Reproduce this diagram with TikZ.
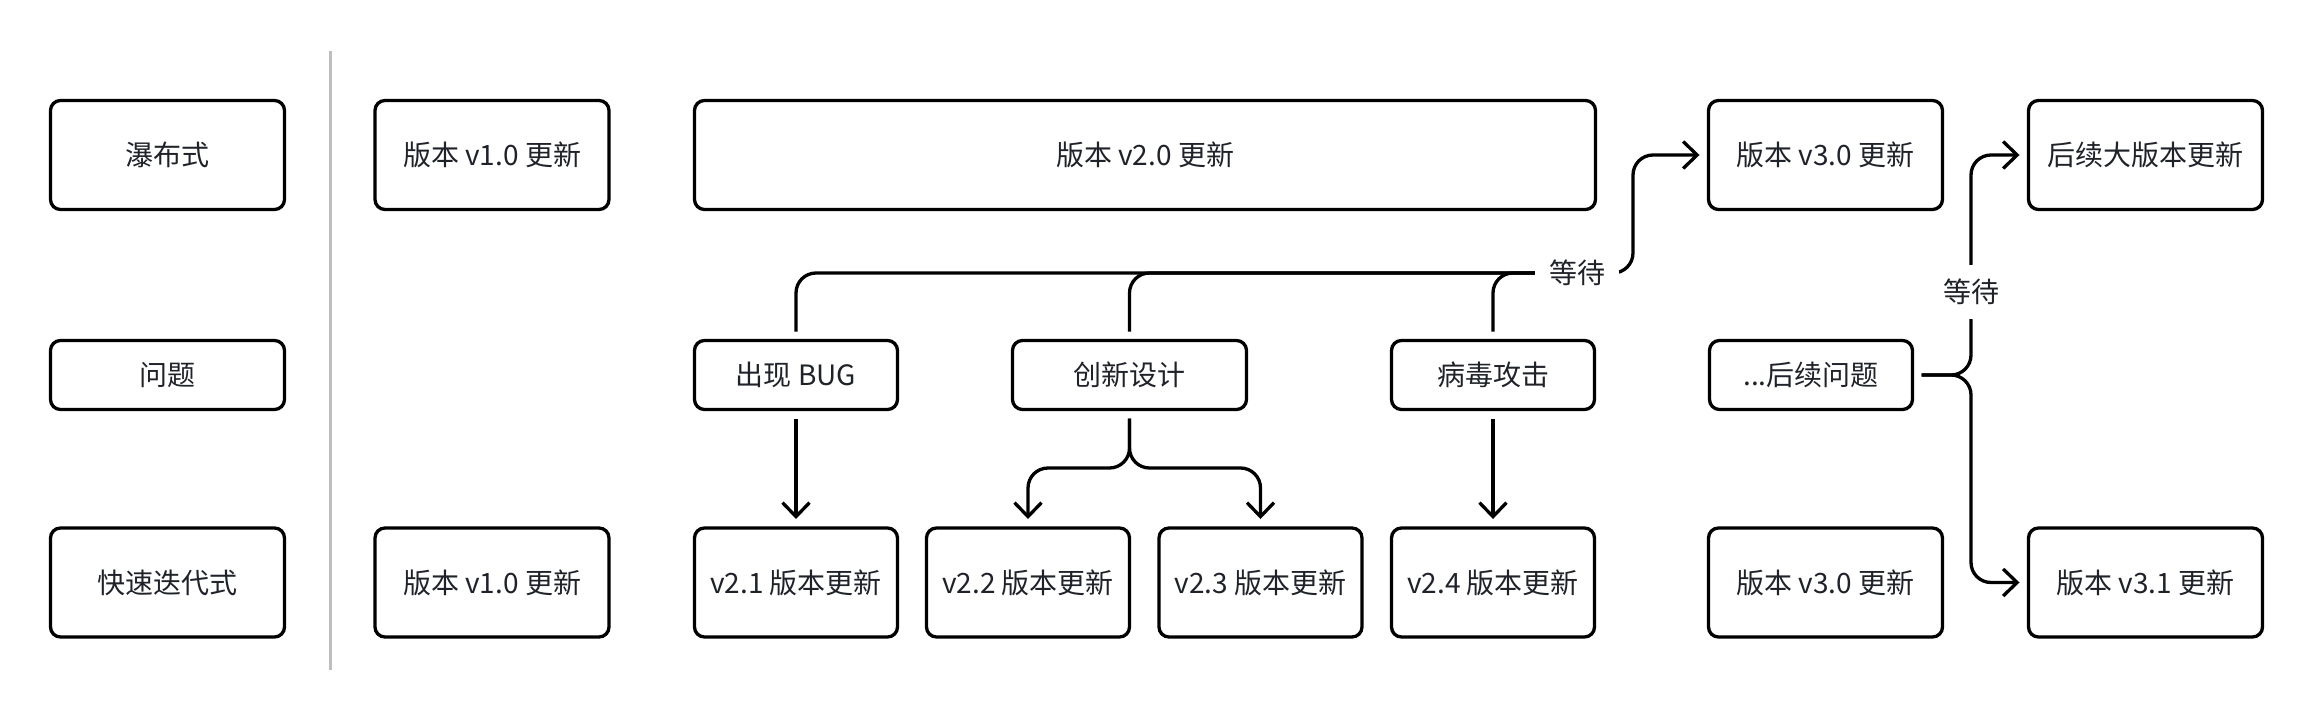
\documentclass[tikz,border=0pt]{standalone}
\usepackage{fontspec}
\setmainfont{Noto Sans CJK SC}
\usetikzlibrary{arrows.meta,positioning}
\definecolor{31_35_41}{RGB}{31, 35, 41}
\definecolor{187_191_196}{RGB}{187, 191, 196}

\begin{document}
\begin{tikzpicture}[
        x=0.5pt,
        y=-0.5pt,
        every node/.style={text=31_35_41, font=\fontsize{14pt}{17pt}\selectfont},
        box/.style={
            draw=black,
            line width=1.65pt,
            rounded corners=5pt,
            minimum width=117pt,
            minimum height=54.5pt,
            inner sep=0pt,
            outer sep=4.5pt
        },
        narrowbox/.style={box, minimum width=101.5pt},
        lowbox/.style={minimum height=34.5pt},
        conn/.style={draw=black, line width=1.65pt, rounded corners=10pt},
        connarrow/.style={conn, -{Straight Barb[length=7pt,width=13.5pt]}},
        waitlabel/.style={fill=white, inner sep=7pt}
    ]
    \useasboundingbox (0,0) rectangle (2314,722);

    % divider
    \draw[187_191_196, line width=1.5pt] (330,51) -- (330,670);

    % left column
    \node[box] (waterfall) at (167.5,155) {瀑布式};
    \node[box, lowbox] (problem) at (167.5,375) {问题};
    \node[box] (rapid) at (167.5,582.5) {快速迭代式};

    % v1.0
    \node[box] (wv10) at (492,155) {版本 v1.0 更新};
    \node[box] (rv10) at (492,582.5) {版本 v1.0 更新};

    % v2.x
    \node[box, minimum width=450.5pt] (wv20) at (1145,155) {版本 v2.0 更新};
    \node[narrowbox, lowbox] (bug) at (796,375) {出现 BUG};
    \node[box, lowbox] (idea) at (1129.5,375) {创新设计};
    \node[narrowbox, lowbox] (virus) at (1493,375) {病毒攻击};
    \node[narrowbox] (v21) at (796,582.5) {v2.1 版本更新};
    \node[narrowbox] (v22) at (1028,582.5) {v2.2 版本更新};
    \node[narrowbox] (v23) at (1260.5,582.5) {v2.3 版本更新};
    \node[narrowbox] (v24) at (1493,582.5) {v2.4 版本更新};

    % v3.x
    \node[box] (wv30) at (1825.5,155) {版本 v3.0 更新};
    \node[box] (major) at (2145.5,155) {后续大版本更新};
    \node[narrowbox, lowbox] (issue) at (1811,375) {...后续问题};
    \node[box] (rv30) at (1825.5,582.5) {版本 v3.0 更新};
    \node[box] (v31) at (2145.5,582.5) {版本 v3.1 更新};

    \coordinate (turn1) at (1633,273);
    \coordinate (mid1) at (1577,273);
    \coordinate (fork1) at (1129.5,468);
    \coordinate (fork2) at (1971,375);
    \coordinate (mid2) at (1971,292);

    % waterfall waits
    \draw[connarrow] (bug.north) |- (turn1) |- (wv30.west);
    \draw[conn] (idea.north) |- (mid1);
    \draw[conn] (virus.north) |- (mid1);
    \node[waitlabel] (wait1) at (mid1) {等待};

    % rapid iteration
    \draw[connarrow] (bug.south) -- (v21.north);
    \draw[connarrow] (idea.south) -- (fork1) -| (v22.north);
    \draw[connarrow] (idea.south) -- (fork1) -| (v23.north);
    \draw[connarrow] (virus.south) -- (v24.north);

    \draw[connarrow] (issue.east) -- (fork2) |- (major.west);
    \draw[connarrow] (issue.east) -- (fork2) |- (v31.west);
    \node[waitlabel] (wait2) at (mid2) {等待};
\end{tikzpicture}
\end{document}
